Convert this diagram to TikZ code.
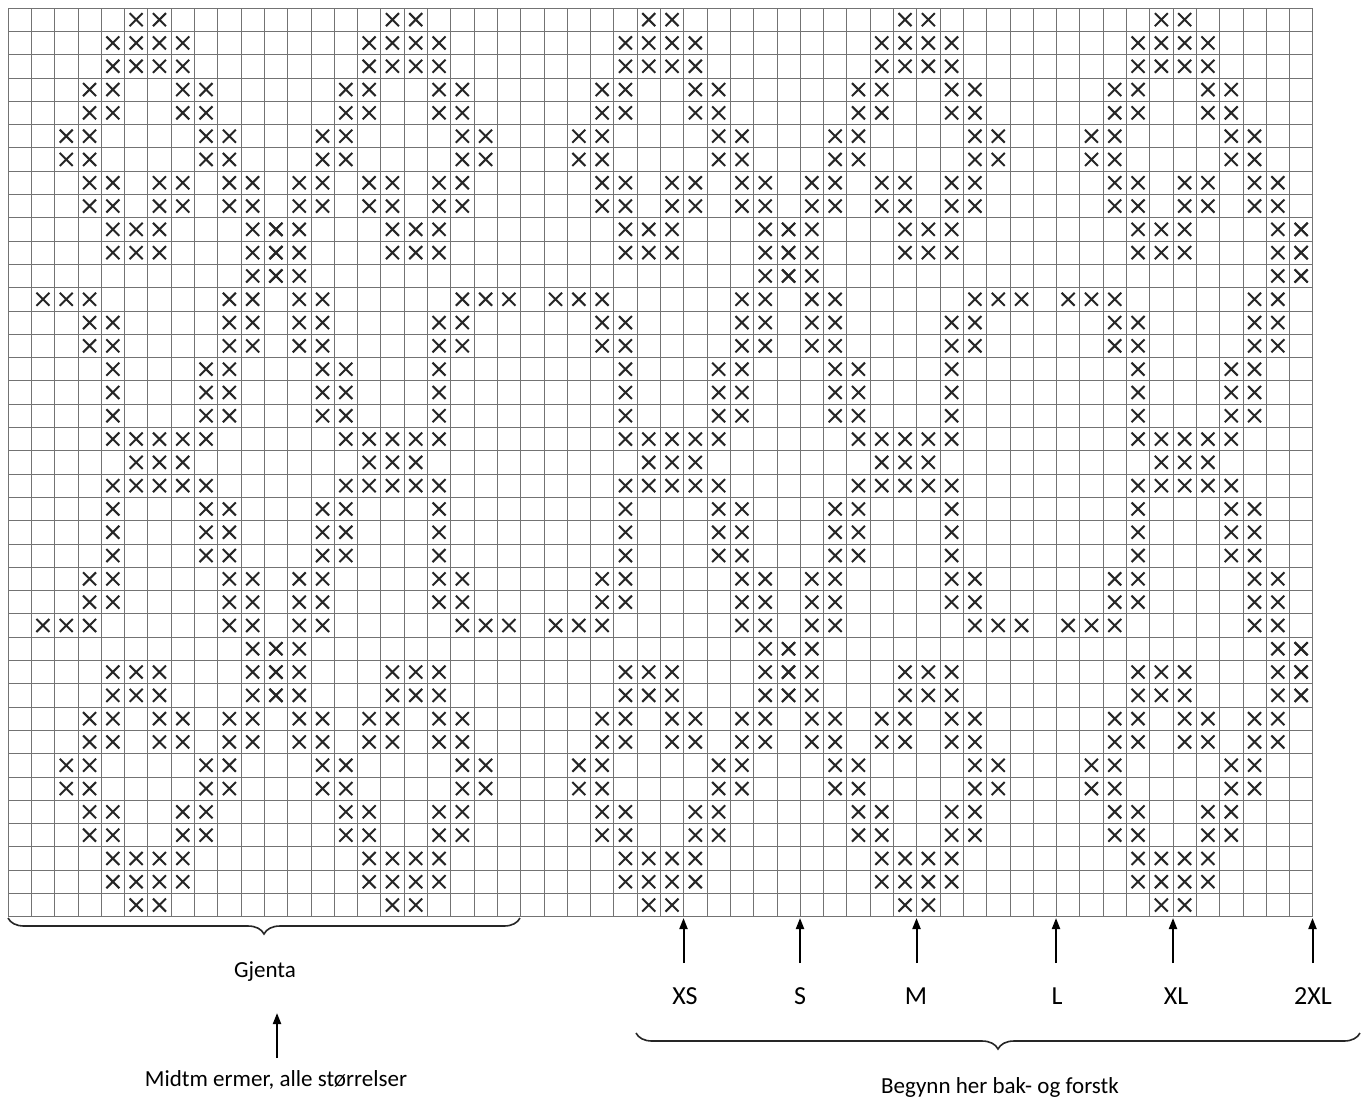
\documentclass[tikz,border=0pt]{standalone}
\usepackage{fontspec}
\setmainfont{Carlito}
\usetikzlibrary{decorations.pathreplacing,arrows.meta}
\begin{document}
\begin{tikzpicture}[x=1pt,y=-1pt,
  gridline/.style={draw=black!55,line width=0.8pt},
  xstroke/.style={draw=black!85,line width=2pt},
  bracestyle/.style={draw=black!85,line width=1.6pt,decorate,decoration={brace,mirror,amplitude=16pt,aspect=0.5}},
  uparrow/.style={draw=black,line width=2pt,-{Triangle[length=11pt,width=8pt]}},
  sizelbl/.style={font=\fontsize{26}{30}\selectfont,inner sep=0pt},
  smalllbl/.style={font=\fontsize{23}{26}\selectfont,inner sep=0pt}]
\useasboundingbox[fill=white] (0,0) rectangle (1371,1104);
% grid
\foreach \i in {0,...,56}{
  \draw[gridline] ({8+23.3*\i},8) -- ({8+23.3*\i},916.7);
}
\foreach \j in {0,...,39}{
  \draw[gridline] (8,{8+23.3*\j}) -- (1312.8,{8+23.3*\j});
}
\newcommand\xmark[2]{%
  \pgfmathsetmacro\xmx{8+23.3*(#1+0.5)}%
  \pgfmathsetmacro\xmy{8+23.3*(#2-0.5)}%
  \draw[xstroke] (\xmx-6.5,\xmy-6.5) -- ++(13,13) (\xmx+6.5,\xmy-6.5) -- ++(-13,13);%
}
\foreach \r/\cols in {1/{5,6},2/{4,5,6,7},3/{4,5,6,7},4/{3,4,7,8},5/{3,4,7,8},
  6/{2,3,8,9},7/{2,3,8,9},8/{3,4,6,7,9,10},9/{3,4,6,7,9,10},10/{4,5,6,10,11},
  11/{4,5,6,10,11},12/{10,11},13/{1,2,3,9,10},14/{3,4,9,10},15/{3,4,9,10},
  16/{4,8,9},17/{4,8,9},18/{4,8,9},19/{4,5,6,7,8},20/{5,6,7},21/{4,5,6,7,8},
  22/{4,8,9},23/{4,8,9},24/{4,8,9},25/{3,4,9,10},26/{3,4,9,10},27/{1,2,3,9,10},
  28/{10,11},29/{4,5,6,10,11},30/{4,5,6,10,11},31/{3,4,6,7,9,10},32/{3,4,6,7,9,10},
  33/{2,3,8,9},34/{2,3,8,9},35/{3,4,7,8},36/{3,4,7,8},37/{4,5,6,7},38/{4,5,6,7},39/{5,6}}{
  \foreach \c in \cols {
    \foreach \k in {0,22,44}{
      \pgfmathtruncatemacro\ca{\c+\k}
      \pgfmathtruncatemacro\cb{22-\c+\k}
      \ifnum\ca<56 \xmark{\ca}{\r}\fi
      \ifnum\cb<56 \xmark{\cb}{\r}\fi
    }
  }
}
% left brace
\coordinate (lbA) at (8,918);
\coordinate (lbB) at (520,918);
\draw[bracestyle] (lbA) -- (lbB);
\node[smalllbl] (gjenta) at (265,972) {Gjenta};
% middle arrow
\node[smalllbl] (midtm) at (276,1080) {Midtm ermer, alle størrelser};
\coordinate (midtip) at (277,1013);
\coordinate (midbase) at (277,1058);
\draw[uparrow] (midbase) -- (midtip);
% size arrows
\foreach \nm/\lbl/\xa/\xl in {xs/XS/683.5/685,s/S/800/800,m/M/916.5/916,l/L/1056/1057,xl/XL/1173/1176,xxl/2XL/1312.5/1313}{
  \node[sizelbl] (\nm) at (\xl,996) {\lbl};
  \coordinate (\nm tip) at (\xa,918);
  \coordinate (\nm base) at (\xa,963);
  \draw[uparrow] (\nm base) -- (\nm tip);
}
% right brace
\coordinate (rbA) at (636,1033);
\coordinate (rbB) at (1360,1033);
\draw[bracestyle] (rbA) -- (rbB);
\node[smalllbl] (begynn) at (1000,1087) {Begynn her bak- og forstk};
\end{tikzpicture}
\end{document}
